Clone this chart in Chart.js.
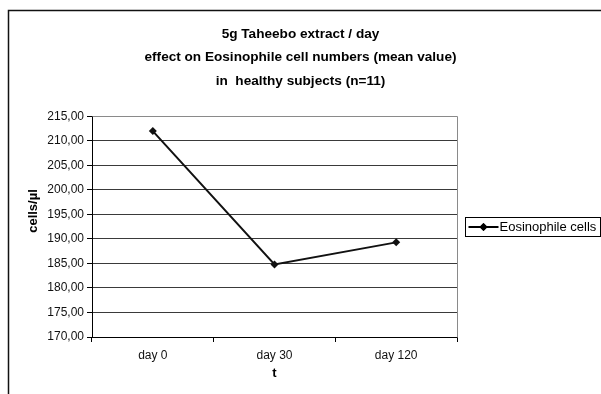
<!DOCTYPE html>
<html lang="en">
<head>
  <meta charset="UTF-8" />
  <title>Taheebo - Eosinophile cells</title>
  <style>
    html, body { margin: 0; padding: 0; background: #fff; }
    #wrap { position: relative; width: 601px; height: 394px; }
  </style>
</head>
<body>
  <div id="wrap"><canvas id="eosChart" width="601" height="394"></canvas></div>

  <script src="https://cdn.jsdelivr.net/npm/chart.js"></script>
  <script>
    // data
    const days = ["day 0", "day 30", "day 120"];
    const eosinophileCells = [212.0, 184.8, 189.3];
    const seriesName = "Eosinophile cells";
    const titleLines = [
      "5g Taheebo extract / day",
      "effect on Eosinophile cell numbers (mean value)",
      "in  healthy subjects (n=11)"
    ];
    const yTitle = "cells/µl";
    const xTitle = "t";
    const yMin = 170, yMax = 215, yStep = 5;

    const FONT = "'Liberation Sans', Arial, sans-serif";

    // outer frame, plot border, y title and boxed legend
    const decorations = {
      id: "decorations",
      beforeDatasetsDraw(chart) {
        const { ctx, chartArea: a } = chart;
        ctx.save();
        ctx.strokeStyle = "#8a8a8a";
        ctx.lineWidth = 1;
        ctx.beginPath();
        ctx.moveTo(Math.round(a.left) + 0.5, Math.round(a.top) + 0.5);
        ctx.lineTo(Math.round(a.right) + 0.5, Math.round(a.top) + 0.5);
        ctx.lineTo(Math.round(a.right) + 0.5, Math.round(a.bottom) + 0.5);
        ctx.stroke();
        ctx.restore();
      },
      afterDraw(chart) {
        const { ctx } = chart;
        ctx.save();
        // outer frame
        ctx.strokeStyle = "#111";
        ctx.lineWidth = 1.5;
        ctx.beginPath();
        ctx.moveTo(8.5, 394);
        ctx.lineTo(8.5, 10.5);
        ctx.lineTo(601, 10.5);
        ctx.stroke();

        // y axis title, sits a bit above the middle of the axis
        ctx.save();
        ctx.translate(33, 211);
        ctx.rotate(-Math.PI / 2);
        ctx.font = "bold 13px " + FONT;
        ctx.fillStyle = "#000";
        ctx.textAlign = "center";
        ctx.textBaseline = "middle";
        ctx.fillText(yTitle, 0, 0);
        ctx.restore();

        // legend
        const ds = chart.data.datasets[0];
        const bx = 465.5, by = 217.5, bw = 135, bh = 19;
        ctx.lineWidth = 1;
        ctx.strokeStyle = "#000";
        ctx.strokeRect(bx, by, bw, bh);
        const cy = by + bh / 2;
        ctx.lineWidth = 2;
        ctx.beginPath();
        ctx.moveTo(bx + 3, cy);
        ctx.lineTo(bx + 33, cy);
        ctx.stroke();
        Chart.helpers.drawPoint(ctx, { pointStyle: "rectRot", radius: 4, rotation: 0 }, bx + 18, cy);
        ctx.fillStyle = "#000";
        ctx.fill();
        ctx.font = "13px " + FONT;
        ctx.textBaseline = "middle";
        ctx.textAlign = "left";
        ctx.fillText(ds.label, bx + 34, cy + 0.5);
        ctx.restore();
      }
    };

    const ctx = document.getElementById("eosChart").getContext("2d");
    new Chart(ctx, {
      type: "line",
      data: {
        labels: days,
        datasets: [{
          label: seriesName,
          data: eosinophileCells,
          borderColor: "#111",
          borderWidth: 2,
          backgroundColor: "#111",
          pointStyle: "rectRot",
          pointRadius: 4,
          pointBackgroundColor: "#111",
          pointBorderWidth: 0,
          tension: 0,
          fill: false
        }]
      },
      options: {
        responsive: false,
        animation: false,
        layout: { padding: 0 },
        plugins: {
          legend: { display: false },
          tooltip: { enabled: false },
          title: {
            display: true,
            text: titleLines,
            color: "#000",
            font: { family: FONT, size: 13.6, weight: "bold", lineHeight: 1.7 },
            padding: { top: 23, bottom: 24 }
          }
        },
        scales: {
          x: {
            offset: true,
            afterFit: s => { s.height = 57; },
            border: { color: "#000", width: 1 },
            grid: { drawOnChartArea: false, drawTicks: true, tickLength: 5, tickColor: "#000", offset: true },
            ticks: { color: "#111", padding: 6, font: { family: FONT, size: 12 } },
            title: {
              display: true, text: xTitle, color: "#000",
              font: { family: FONT, size: 13, weight: "bold" },
              padding: { top: 0, bottom: 13 }
            }
          },
          y: {
            min: yMin,
            max: yMax,
            afterFit: s => { s.width = 92; },
            border: { color: "#000", width: 1 },
            grid: { color: "#3a3a3a", lineWidth: 1, tickLength: 5, tickColor: "#000" },
            ticks: {
              stepSize: yStep,
              color: "#111",
              padding: 3,
              font: { family: FONT, size: 12 },
              callback: v => v.toFixed(2).replace(".", ",")
            }
          },
          // empty right-hand axis keeps room for the legend box
          side: {
            type: "linear",
            position: "right",
            afterFit: s => { s.width = 144; },
            border: { display: false },
            grid: { display: false, drawTicks: false },
            ticks: { display: false }
          }
        }
      },
      plugins: [decorations]
    });
  </script>
</body>
</html>
